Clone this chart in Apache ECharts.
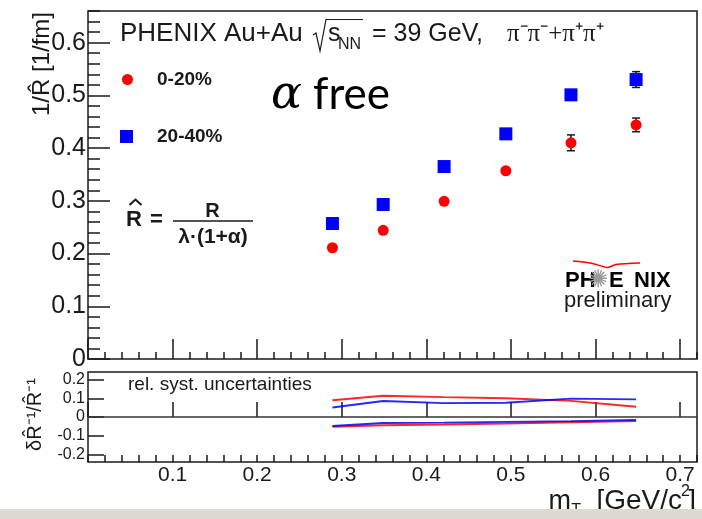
<!DOCTYPE html>
<html>
<head>
<meta charset="utf-8">
<script src="https://cdn.jsdelivr.net/npm/echarts@6/dist/echarts.min.js"></script>
<style>
  html, body { margin: 0; padding: 0; background: #fff; }
  #chart { width: 702px; height: 519px; }
</style>
</head>
<body>
<div id="chart"></div>
<script>
// transverse mass bins [GeV/c^2]
const mT = [0.289, 0.349, 0.421, 0.494, 0.571, 0.648];

// 1/R-hat [1/fm] for the two centrality classes, with stat. errors
const invR_0_20 = [0.211, 0.244, 0.299, 0.357, 0.410, 0.444];
const err_0_20 = [0.003, 0.003, 0.003, 0.004, 0.015, 0.013];
const invR_20_40 = [0.257, 0.293, 0.365, 0.427, 0.501, 0.530];
const err_20_40 = [0.003, 0.003, 0.004, 0.005, 0.006, 0.015];

// relative systematic uncertainties (upper / lower band edges)
const syst_0_20_up = [0.089, 0.113, 0.106, 0.100, 0.086, 0.055];
const syst_0_20_down = [-0.052, -0.044, -0.040, -0.035, -0.028, -0.022];
const syst_20_40_up = [0.051, 0.085, 0.074, 0.076, 0.098, 0.094];
const syst_20_40_down = [-0.048, -0.032, -0.030, -0.026, -0.022, -0.016];

// ticks
const xMajorTicks = [0, 0.1, 0.2, 0.3, 0.4, 0.5, 0.6, 0.7];
const xTickLabels = [0.1, 0.2, 0.3, 0.4, 0.5, 0.6, 0.7];
const yMainTicks = [0, 0.1, 0.2, 0.3, 0.4, 0.5, 0.6];
const yLowTicks = [-0.2, -0.1, 0, 0.1, 0.2];

const FONT = 'Liberation Sans, Arial, sans-serif';
const INK = '#1a1a1a';
const RED = '#ff0000';
const BLUE = '#0000ff';

const tickLine = { color: INK, width: 1.5 };
const fmt = v => (v === 0 ? '0' : String(+v.toFixed(2)));

function txt(x, y, text, size, extra) {
  return Object.assign({
    type: 'text', x: x, y: y, z: 20,
    style: Object.assign({
      text: text, font: size + 'px ' + FONT, fill: INK,
      align: 'left', verticalAlign: 'middle'
    }, (extra && extra.style) || {})
  }, extra && extra.rotation !== undefined ? { rotation: extra.rotation } : {});
}

function errorBars(values, errs) {
  return values.map((v, i) => [mT[i], v - errs[i], v + errs[i]]);
}

function renderErr(params, api) {
  const top = api.coord([api.value(0), api.value(2)]);
  const bot = api.coord([api.value(0), api.value(1)]);
  const s = { stroke: INK, lineWidth: 1.5 };
  return {
    type: 'group',
    children: [
      { type: 'line', shape: { x1: top[0], y1: top[1], x2: bot[0], y2: bot[1] }, style: s },
      { type: 'line', shape: { x1: top[0] - 4, y1: top[1], x2: top[0] + 4, y2: top[1] }, style: s },
      { type: 'line', shape: { x1: bot[0] - 4, y1: bot[1], x2: bot[0] + 4, y2: bot[1] }, style: s }
    ]
  };
}

const chart = echarts.init(document.getElementById('chart'), null, { renderer: 'canvas' });

const gridBase = { left: 88, right: 5, show: true, borderColor: INK, borderWidth: 1.5, backgroundColor: 'transparent' };

const option = {
  animation: false,
  grid: [
    Object.assign({ top: 11, height: 348 }, gridBase),
    Object.assign({ top: 372, height: 90 }, gridBase)
  ],
  xAxis: [
    { gridIndex: 0, type: 'value', position: 'bottom', min: 0, max: 0.72,
      axisLine: { show: false }, splitLine: { show: false }, axisLabel: { show: false },
      axisTick: { inside: true, length: 20, customValues: xMajorTicks, lineStyle: tickLine } },
    { gridIndex: 0, type: 'value', position: 'bottom', min: 0, max: 0.72, interval: 0.02,
      axisLine: { show: false }, splitLine: { show: false }, axisLabel: { show: false },
      axisTick: { inside: true, length: 7, lineStyle: tickLine } },
    { gridIndex: 1, type: 'value', position: 'bottom', min: 0, max: 0.72,
      axisLine: { show: false }, splitLine: { show: false },
      axisLabel: { customValues: xTickLabels, fontSize: 21, fontFamily: FONT, color: INK, margin: 3, formatter: fmt },
      axisTick: { inside: true, length: 15, customValues: xMajorTicks, lineStyle: tickLine } },
    { gridIndex: 1, type: 'value', position: 'bottom', min: 0, max: 0.72, interval: 0.02,
      axisLine: { show: false }, splitLine: { show: false }, axisLabel: { show: false },
      axisTick: { inside: true, length: 7, lineStyle: tickLine } }
  ],
  yAxis: [
    { gridIndex: 0, type: 'value', position: 'left', min: 0, max: 0.66,
      axisLine: { show: false }, splitLine: { show: false },
      axisLabel: { customValues: yMainTicks, fontSize: 25, fontFamily: FONT, color: INK, margin: 2, formatter: fmt },
      axisTick: { inside: true, length: 22, customValues: yMainTicks, lineStyle: tickLine } },
    { gridIndex: 0, type: 'value', position: 'left', min: 0, max: 0.66, interval: 0.02,
      axisLine: { show: false }, splitLine: { show: false }, axisLabel: { show: false },
      axisTick: { inside: true, length: 12, lineStyle: tickLine } },
    { gridIndex: 1, type: 'value', position: 'left', min: -0.24, max: 0.24,
      axisLine: { show: false }, splitLine: { show: false },
      axisLabel: { customValues: yLowTicks, fontSize: 16, fontFamily: FONT, color: INK, margin: 3, formatter: fmt },
      axisTick: { inside: true, length: 16, customValues: yLowTicks, lineStyle: tickLine } }
  ],
  legend: [
    { data: ['0-20%'], left: 122, top: 70, padding: 0, itemWidth: 11, itemHeight: 11,
      textStyle: { fontSize: 19, fontWeight: 'bold', fontFamily: FONT, color: INK, padding: [0, 0, 0, 19] } },
    { data: ['20-40%'], left: 120, top: 127, padding: 0, itemWidth: 13, itemHeight: 13,
      textStyle: { fontSize: 19, fontWeight: 'bold', fontFamily: FONT, color: INK, padding: [0, 0, 0, 19] } }
  ],
  series: [
    { type: 'custom', xAxisIndex: 0, yAxisIndex: 0, z: 2, renderItem: renderErr,
      data: errorBars(invR_0_20, err_0_20) },
    { type: 'custom', xAxisIndex: 0, yAxisIndex: 0, z: 2, renderItem: renderErr,
      data: errorBars(invR_20_40, err_20_40) },
    { name: '0-20%', type: 'scatter', xAxisIndex: 0, yAxisIndex: 0, z: 3,
      symbol: 'circle', symbolSize: 11, itemStyle: { color: RED, opacity: 1 },
      data: mT.map((x, i) => [x, invR_0_20[i]]) },
    { name: '20-40%', type: 'scatter', xAxisIndex: 0, yAxisIndex: 0, z: 3,
      symbol: 'rect', symbolSize: 13, itemStyle: { color: BLUE, opacity: 1 },
      data: mT.map((x, i) => [x, invR_20_40[i]]) },
    { type: 'line', xAxisIndex: 2, yAxisIndex: 2, showSymbol: false, silent: true,
      lineStyle: { color: RED, width: 2, opacity: 0.85 },
      data: mT.map((x, i) => [x, syst_0_20_up[i]]),
      markLine: { silent: true, symbol: ['none', 'none'], label: { show: false },
        lineStyle: { color: '#333', width: 1.5, type: 'solid' }, data: [{ yAxis: 0 }] } },
    { type: 'line', xAxisIndex: 2, yAxisIndex: 2, showSymbol: false, silent: true,
      lineStyle: { color: RED, width: 2, opacity: 0.85 },
      data: mT.map((x, i) => [x, syst_0_20_down[i]]) },
    { type: 'line', xAxisIndex: 2, yAxisIndex: 2, showSymbol: false, silent: true,
      lineStyle: { color: BLUE, width: 2, opacity: 0.85 },
      data: mT.map((x, i) => [x, syst_20_40_up[i]]) },
    { type: 'line', xAxisIndex: 2, yAxisIndex: 2, showSymbol: false, silent: true,
      lineStyle: { color: BLUE, width: 2, opacity: 0.85 },
      data: mT.map((x, i) => [x, syst_20_40_down[i]]) }
  ],
  graphic: { elements: [
    // header
    txt(120, 34, 'PHENIX Au+Au', 26),
    { type: 'polyline', z: 20, shape: { points: [[313, 35], [316, 33], [320, 51], [326, 19.5], [363, 19.5]] },
      style: { stroke: INK, lineWidth: 1.2, fill: null } },
    txt(328, 34, 's', 25),
    txt(338, 44.5, 'NN', 16),
    txt(372, 34, '= 39 GeV,', 25),
    txt(507, 34, 'π⁻π⁻+π⁺π⁺', 25, { style: { font: '25px Liberation Serif, serif' } }),

    // alpha free
    txt(271, 96, 'α', 46, { style: { font: 'italic 46px DejaVu Serif, serif', fill: '#000' } }),
    txt(313, 95, 'free', 44, { style: { font: '44px Lato, sans-serif', fill: '#000' } }),

    // R-hat definition
    txt(126, 220, 'R', 22, { style: { font: 'bold 22px ' + FONT } }),
    { type: 'polyline', z: 20, shape: { points: [[129.5, 205], [135.5, 199.5], [141.5, 205]] },
      style: { stroke: INK, lineWidth: 2, fill: null } },
    txt(150, 220, '=', 22, { style: { font: 'bold 22px ' + FONT } }),
    txt(212.5, 211.5, 'R', 20, { style: { font: 'bold 20px ' + FONT, align: 'center' } }),
    { type: 'line', z: 20, shape: { x1: 173, y1: 221, x2: 253, y2: 221 }, style: { stroke: INK, lineWidth: 1.5 } },
    txt(213, 237, 'λ·(1+α)', 21, { style: { font: 'bold 21px ' + FONT, align: 'center' } }),

    // PHENIX preliminary logo
    { type: 'polyline', z: 20,
      shape: { points: [[573, 261], [590, 263], [603, 266.5], [608, 267.5], [616, 264.5], [640, 263]], smooth: 0.3 },
      style: { stroke: RED, lineWidth: 1.5, fill: null } },
    txt(565, 281, 'PH', 22, { style: { font: 'bold 22px ' + FONT, fill: '#000' } }),
    txt(598, 281, '✺', 24, { style: { font: '24px DejaVu Sans, sans-serif', fill: '#999', align: 'center' } }),
    txt(609, 281, 'E', 22, { style: { font: 'bold 22px ' + FONT, fill: '#000' } }),
    txt(634, 281, 'NIX', 22, { style: { font: 'bold 22px ' + FONT, fill: '#000' } }),
    txt(564, 300.5, 'preliminary', 22),

    // lower panel label
    txt(128, 384.5, 'rel. syst. uncertainties', 19),

    // axis titles
    txt(42, 64, '1/R\u0302 [1/fm]', 24, { rotation: Math.PI / 2, style: { align: 'center' } }),
    txt(35, 414.5, 'δR\u0302⁻¹/R\u0302⁻¹', 20, { rotation: Math.PI / 2, style: { align: 'center' } }),
    txt(571, 501.6, 'm', 27, { style: { align: 'right' } }),
    txt(581, 510.5, 'T', 16, { style: { align: 'right' } }),
    txt(682, 501.6, '[GeV/c', 28, { style: { align: 'right' } }),
    txt(681, 492, '2', 16),
    txt(696, 501.6, ']', 28, { style: { align: 'right' } }),

    // grey strip at the bottom of the slide
    { type: 'rect', z: 100, shape: { x: 0, y: 509, width: 702, height: 10 }, style: { fill: '#dddad4' } }
  ] }
};

chart.setOption(option);
</script>
</body>
</html>
